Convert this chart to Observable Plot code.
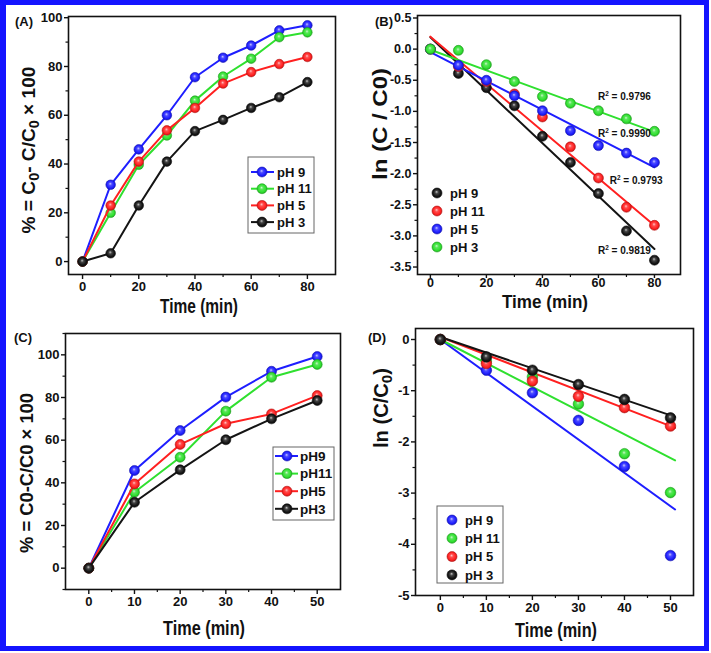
<!DOCTYPE html>
<html><head><meta charset="utf-8">
<script src="https://cdn.jsdelivr.net/npm/d3@7"></script>
<script src="https://cdn.jsdelivr.net/npm/@observablehq/plot@0.6"></script>
<style>
body{margin:0;background:#fff;}
#root{position:relative;width:711px;height:653px;overflow:hidden;background:#fff;font-family:"Liberation Sans",Arial,sans-serif;}
#border{position:absolute;left:0;top:0;width:709px;height:651px;box-sizing:border-box;border-style:solid;border-color:#1414ff;border-width:5px 5px 5px 6px;pointer-events:none;}
</style></head><body><div id="root"><svg width="0" height="0" style="position:absolute" id="defs"></svg></div>
<script>
// ---------------- DATA ----------------
// Panel A
const timeA = [0, 10, 20, 30, 40, 50, 60, 70, 80];
const labelsA = ["pH 9", "pH 11", "pH 5", "pH 3"];
const aPH9  = [0, 31.5, 46.0, 60.0, 75.6, 83.6, 88.6, 94.8, 96.9];
const aPH11 = [0, 20.0, 39.7, 51.7, 66.0, 75.9, 83.2, 92.0, 94.0];
const aPH5  = [0, 23.0, 41.0, 53.8, 63.0, 73.0, 77.7, 81.0, 83.9];
const aPH3  = [0,  3.4, 23.0, 41.0, 53.5, 58.1, 63.0, 67.4, 73.6];
// Panel B
const timeB = [0, 10, 20, 30, 40, 50, 60, 70, 80];
const labelsB = ["pH 9", "pH 11", "pH 5", "pH 3"];
const bPH9  = [0, -0.39, -0.62, -0.91, -1.40, -1.82, -2.32, -2.92, -3.39];
const bPH11 = [0, -0.28, -0.52, -0.72, -1.09, -1.57, -2.07, -2.54, -2.83];
const bPH5  = [0, -0.26, -0.50, -0.75, -0.99, -1.31, -1.55, -1.67, -1.82];
const bPH3  = [0, -0.02, -0.25, -0.52, -0.76, -0.87, -0.99, -1.12, -1.32];
const bFitIntercept = [0.19, 0.20, -0.05, -0.01];
const bFitSlope     = [-0.0425, -0.0379, -0.0231, -0.0165];
const bFitRange = [0, 80];
const bR2 = ["0.9819", "0.9793", "0.9990", "0.9796"];
// Panel C
const timeC = [0, 10, 20, 30, 40, 50];
const labelsC = ["pH9", "pH11", "pH5", "pH3"];
const cPH9  = [0, 45.8, 64.5, 80.2, 92.3, 99.2];
const cPH11 = [0, 35.6, 52.0, 73.6, 89.5, 95.5];
const cPH5  = [0, 39.5, 58.0, 67.7, 72.3, 80.9];
const cPH3  = [0, 30.9, 46.1, 60.2, 70.0, 78.6];
// Panel D
const timeD = [0, 10, 20, 30, 40, 50];
const labelsD = ["pH 9", "pH 11", "pH 5", "pH 3"];
const dPH9  = [0, -0.60, -1.04, -1.58, -2.48, -4.22];
const dPH11 = [0, -0.42, -0.73, -1.26, -2.23, -2.99];
const dPH5  = [0, -0.47, -0.81, -1.11, -1.33, -1.69];
const dPH3  = [0, -0.34, -0.60, -0.88, -1.17, -1.53];
const dFitIntercept = [0, 0, 0.05, 0.05];
const dFitSlope     = [-0.0651, -0.0463, -0.0348, -0.0306];
const dFitRange = [0, 51];

// Axis ticks
const ticksA_x = [0, 20, 40, 60, 80], minorA_x = [10, 30, 50, 70];
const ticksA_y = [0, 20, 40, 60, 80, 100], minorA_y = [10, 30, 50, 70, 90];
const ticksB_y = [0.5, 0, -0.5, -1, -1.5, -2, -2.5, -3, -3.5];
const minorB_y = [0.25, -0.25, -0.75, -1.25, -1.75, -2.25, -2.75, -3.25];
const ticksC_x = [0, 10, 20, 30, 40, 50], minorC_x = [5, 15, 25, 35, 45];
const ticksC_y = [0, 20, 40, 60, 80, 100], minorC_y = [-10, 10, 30, 50, 70, 90, 110];
const ticksD_y = [0, -1, -2, -3, -4, -5], minorD_y = [-0.5, -1.5, -2.5, -3.5, -4.5];

// ---------------- STYLE ----------------
const COL = {blue: "#1e1eff", green: "#2fe02f", red: "#ff2020", black: "#141414"};
const FONT = '"Liberation Sans", Arial, sans-serif';

// sphere-like gradients
const defs = d3.select("#defs").append("defs");
for (const [k, c] of Object.entries(COL)) {
  const g = defs.append("radialGradient").attr("id", "g-" + k)
    .attr("cx", "50%").attr("cy", "50%").attr("r", "55%").attr("fx", "45%").attr("fy", "38%");
  g.append("stop").attr("offset", "0%").attr("stop-color", d3.interpolateRgb(c, "#fff")(0.75));
  g.append("stop").attr("offset", "30%").attr("stop-color", d3.interpolateRgb(c, "#fff")(0.2));
  g.append("stop").attr("offset", "70%").attr("stop-color", c);
  g.append("stop").attr("offset", "100%").attr("stop-color", d3.interpolateRgb(c, "#000")(0.35));
}

const root = document.getElementById("root");

function series(time, arrs, names, colors) {
  return arrs.map((vals, i) => ({name: names[i], color: colors[i],
    data: time.map((t, j) => ({t, v: vals[j]}))}));
}

function panel(cfg) {
  const marks = [
    Plot.frame({stroke: "#111", strokeWidth: 1.6}),
    Plot.axisX(cfg.xTicks, {tickSize: cfg.xts ?? 5, tickPadding: cfg.xtp ?? 2, strokeWidth: 1.4, label: null, tickFormat: d => String(d), fontSize: cfg.fs}),
    Plot.axisX(cfg.xMinor, {tickSize: 3, strokeWidth: 1.2, label: null, tickFormat: () => ""}),
    Plot.axisY(cfg.yTicks, {tickSize: 4, tickPadding: 2, strokeWidth: 1.4, label: null, tickFormat: cfg.yFmt, fontSize: cfg.fs}),
    Plot.axisY(cfg.yMinor, {tickSize: 2.5, strokeWidth: 1.2, label: null, tickFormat: () => ""})
  ];
  for (const f of (cfg.fits || [])) {
    marks.push(Plot.line(f.pts, {x: "t", y: "v", stroke: COL[f.color], strokeWidth: 2}));
  }
  for (const s of cfg.series) {
    if (cfg.lines) marks.push(Plot.line(s.data, {x: "t", y: "v", stroke: COL[s.color], strokeWidth: 2}));
    marks.push(Plot.dot(s.data, {x: "t", y: "v", r: cfg.r || 5, fill: `url(#g-${s.color})`, stroke: d3.interpolateRgb(COL[s.color], "#000")(0.25), strokeWidth: 0.6}));
  }
  const p = Plot.plot({
    width: cfg.w, height: cfg.h,
    marginLeft: cfg.ml, marginRight: cfg.mr, marginTop: cfg.mt, marginBottom: cfg.mb,
    x: {domain: cfg.xDomain}, y: {domain: cfg.yDomain},
    style: {fontFamily: FONT, fontWeight: "bold", fontSize: cfg.fs + "px", color: "#111", background: "transparent", overflow: "visible"},
    marks
  });
  p.style.position = "absolute";
  p.style.left = cfg.left + "px";
  p.style.top = cfg.top + "px";
  root.appendChild(p);
  return p;
}

function richText(svg, o) {
  const t = d3.select(svg).append("text")
    .attr("font-family", FONT).attr("font-weight", "bold").attr("font-size", o.fs)
    .attr("fill", "#111").attr("text-anchor", o.anchor || "middle");
  if (o.rotate) t.attr("transform", `translate(${o.x},${o.y}) rotate(-90)`).attr("dy", "0.35em");
  else t.attr("x", o.x).attr("y", o.y);
  if (o.len) t.attr("textLength", o.len).attr("lengthAdjust", "spacingAndGlyphs");
  let shift = 0;
  for (const part of o.parts) {
    if (typeof part === "string") {
      const ts = t.append("tspan").text(part);
      if (shift) { ts.attr("dy", -shift); shift = 0; }
    } else {
      t.append("tspan").attr("font-size", o.fs * part.scale).attr("dy", part.dy - shift).text(part.s);
      shift = part.dy;
    }
  }
  return t;
}

function legend(svg, o) {
  const g = d3.select(svg).append("g");
  if (o.box) g.append("rect").attr("x", o.box[0]).attr("y", o.box[1]).attr("width", o.box[2]).attr("height", o.box[3])
    .attr("fill", "white").attr("stroke", "#666").attr("stroke-width", 1);
  o.items.forEach((it, i) => {
    const y = o.y0 + i * o.step;
    if (o.line) g.append("line").attr("x1", o.line[0]).attr("x2", o.line[1]).attr("y1", y).attr("y2", y)
      .attr("stroke", COL[it.color]).attr("stroke-width", 2);
    g.append("circle").attr("cx", o.dotX).attr("cy", y).attr("r", o.r || 5)
      .attr("fill", `url(#g-${it.color})`).attr("stroke", d3.interpolateRgb(COL[it.color], "#000")(0.25)).attr("stroke-width", 0.6);
    g.append("text").attr("x", o.textX).attr("y", y).attr("dy", "0.36em").attr("text-anchor", "start")
      .attr("font-family", FONT).attr("font-weight", "bold").attr("font-size", o.fs).attr("fill", "#111").text(it.label);
  });
}

// ---------------- PANEL A ----------------
const colorsA = ["blue", "green", "red", "black"];
const sA = series(timeA, [aPH9, aPH11, aPH5, aPH3], labelsA, colorsA);
const pA = panel({left: 0, top: 0, w: 355, h: 320, ml: 68, mr: 20, mt: 16, mb: 46,
  xDomain: [-5, 90], yDomain: [-5.3, 100.5], xTicks: ticksA_x, xMinor: minorA_x,
  yTicks: ticksA_y, yMinor: minorA_y, yFmt: d => String(d), fs: 13, series: sA, lines: true, r: 4.8});
richText(pA, {x: 15, y: 26, fs: 13, anchor: "start", parts: ["(A)"]});
richText(pA, {x: 199, y: 313, fs: 20, len: 78, parts: ["Time (min)"]});
richText(pA, {x: 28, y: 150, fs: 19, rotate: true, len: 167,
  parts: ["% = C", {s: "0", scale: 0.75, dy: 4}, "- C/C", {s: "0", scale: 0.75, dy: 4}, " \u00d7 100"]});
legend(pA, {box: [248, 157, 66, 76], items: sA.map(s => ({label: s.name, color: s.color})),
  y0: 172, step: 16.7, line: [251, 274], dotX: 262, textX: 277, fs: 13});

// ---------------- PANEL B ----------------
const colorsB = ["black", "red", "blue", "green"];
const sB = series(timeB, [bPH9, bPH11, bPH5, bPH3], labelsB, colorsB);
const fitsB = colorsB.map((c, i) => ({color: c, pts: bFitRange.map(t => ({t, v: bFitIntercept[i] + bFitSlope[i] * t}))}));
const pB = panel({left: 355, top: 0, w: 356, h: 320, ml: 62, mr: 31, mt: 15, mb: 46,
  xDomain: [-4.6, 89.3], yDomain: [-3.62, 0.54], xTicks: ticksA_x, xMinor: minorA_x, xts: 4, xtp: 0,
  yTicks: ticksB_y, yMinor: minorB_y, yFmt: d => d.toFixed(1), fs: 12.5, series: sB, fits: fitsB, lines: false, r: 5});
richText(pB, {x: 20, y: 26, fs: 13, anchor: "start", parts: ["(B)"]});
richText(pB, {x: 190, y: 308, fs: 19, len: 86, parts: ["Time (min)"]});
richText(pB, {x: 25, y: 124, fs: 21, rotate: true, len: 112, parts: ["ln (C / C0)"]});
legend(pB, {items: sB.map(s => ({label: s.name, color: s.color})),
  y0: 193, step: 18, dotX: 82, textX: 95, fs: 13});
// R² annotations (order: pH9, pH11, pH5, pH3)
{
  const xs = pB.scale("x"), ys = pB.scale("y");
  const at = [[60, -3.23], [64.2, -2.11], [60, -1.36], [60, -0.77]];
  bR2.forEach((r, i) => {
    const t = d3.select(pB).append("text").attr("x", xs.apply(at[i][0])).attr("y", ys.apply(at[i][1])).attr("dy", "0.35em")
      .attr("text-anchor", "start")
      .attr("font-family", FONT).attr("font-weight", "bold").attr("font-size", 11).attr("fill", "#111")
      .attr("textLength", 53).attr("lengthAdjust", "spacingAndGlyphs");
    t.append("tspan").text("R");
    t.append("tspan").attr("font-size", 7).attr("dy", -4).text("2");
    t.append("tspan").attr("dy", 4).text(" = " + r);
  });
}

// ---------------- PANEL C ----------------
const sC = series(timeC, [cPH9, cPH11, cPH5, cPH3], labelsC, colorsA);
const pC = panel({left: 0, top: 320, w: 355, h: 333, ml: 65, mr: 15, mt: 13, mb: 64,
  xDomain: [-5.1, 55.1], yDomain: [-10, 110], xTicks: ticksC_x, xMinor: minorC_x,
  yTicks: ticksC_y, yMinor: minorC_y, yFmt: d => String(d), fs: 13, series: sC, lines: true, r: 5});
richText(pC, {x: 14, y: 22, fs: 13, anchor: "start", parts: ["(C)"]});
richText(pC, {x: 204, y: 315, fs: 20, len: 82, parts: ["Time (min)"]});
richText(pC, {x: 26, y: 153, fs: 19, rotate: true, len: 160, parts: ["% = C0-C/C0 \u00d7 100"]});
legend(pC, {box: [273, 127, 61, 73], items: sC.map(s => ({label: s.name, color: s.color})),
  y0: 136, step: 17.6, line: [275, 298], dotX: 287, textX: 300, fs: 13.5});

// ---------------- PANEL D ----------------
const sD = series(timeD, [dPH9, dPH11, dPH5, dPH3], labelsD, colorsA);
const fitsD = colorsA.map((c, i) => ({color: c, pts: dFitRange.map(t => ({t, v: dFitIntercept[i] + dFitSlope[i] * t}))}));
const pD = panel({left: 355, top: 320, w: 356, h: 333, ml: 60, mr: 18, mt: 8, mb: 58,
  xDomain: [-5.4, 55], yDomain: [-5, 0.215], xTicks: ticksC_x, xMinor: minorC_x,
  yTicks: ticksD_y, yMinor: minorD_y, yFmt: d => String(d), fs: 13, series: sD, fits: fitsD, lines: false, r: 5.3});
richText(pD, {x: 13, y: 22, fs: 13, anchor: "start", parts: ["(D)"]});
richText(pD, {x: 201, y: 317, fs: 20, len: 82, parts: ["Time (min)"]});
richText(pD, {x: 26, y: 88, fs: 20, rotate: true, len: 80, parts: ["ln (C/C", {s: "0", scale: 0.75, dy: 4}, ")"]});
legend(pD, {box: [82, 186, 66, 77], items: sD.map(s => ({label: s.name, color: s.color})),
  y0: 200, step: 18.3, dotX: 97, textX: 110, fs: 13});

// border
const b = document.createElement("div"); b.id = "border"; root.appendChild(b);
</script></body></html>
